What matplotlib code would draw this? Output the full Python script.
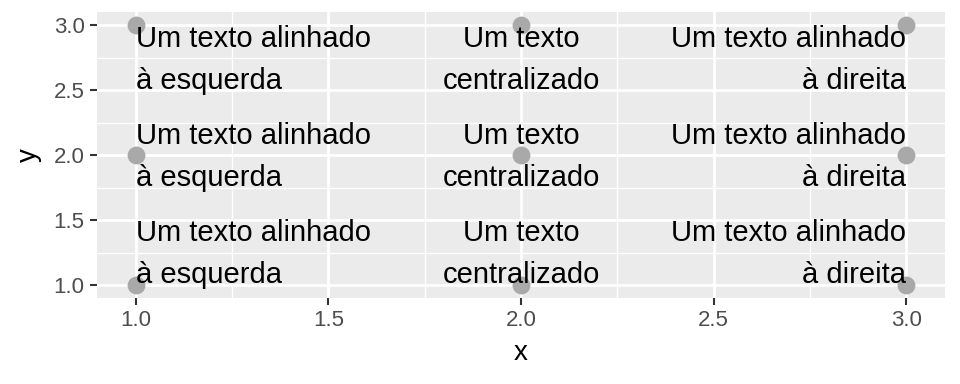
import matplotlib
matplotlib.use("Agg")
import matplotlib.pyplot as plt
import matplotlib.transforms as mtransforms
from matplotlib.ticker import MultipleLocator

plt.rcParams['font.family'] = ['Liberation Sans', 'DejaVu Sans']

xs = [1, 2, 3]
ys = [1, 2, 3]
labels = {1: "Um texto alinhado\nà esquerda", 2: "Um texto\ncentralizado", 3: "Um texto alinhado\nà direita"}
hal = {1: 'left', 2: 'center', 3: 'right'}
val = {1: 'bottom', 2: 'center', 3: 'top'}
xticks = [1.0, 1.5, 2.0, 2.5, 3.0]
yticks = [1.0, 1.5, 2.0, 2.5, 3.0]

fig = plt.figure(figsize=(9.6, 3.84), dpi=100)
ax = fig.add_axes([97/960, 1-298/384, (945-97)/960, (298-12)/384])
ax.set_facecolor('#EBEBEB')
for s in ax.spines.values():
    s.set_visible(False)

ax.set_xlim(0.9, 3.1)
ax.set_ylim(0.9, 3.1)
ax.set_xticks(xticks)
ax.set_yticks(yticks)
ax.set_xticklabels([f"{t:.1f}" for t in xticks])
ax.set_yticklabels([f"{t:.1f}" for t in yticks])
ax.xaxis.set_minor_locator(MultipleLocator(0.25))
ax.yaxis.set_minor_locator(MultipleLocator(0.25))
ax.grid(which='major', color='white', linewidth=2.0)
ax.grid(which='minor', color='white', linewidth=1.0)
ax.set_axisbelow(True)
ax.tick_params(which='major', length=5, width=1.5, color='#333333',
               labelsize=16, labelcolor='#4D4D4D', pad=4)
ax.tick_params(which='minor', length=0)

# small vertical nudges (pixels) to mimic ggplot's text box metrics
nudge = {1: -4, 2: -2, 3: 0}

for x in xs:
    for y in ys:
        ax.scatter([x], [y], s=165, color='#A9A9A9', zorder=2, linewidths=0)
for x in xs:
    for y in ys:
        tr = mtransforms.offset_copy(ax.transData, fig=fig, x=0, y=nudge[y], units='dots')
        ax.text(x, y, labels[x], ha=hal[x], va=val[y], multialignment=hal[x],
                fontsize=21, color='black', linespacing=1.62, zorder=3,
                transform=tr)

ax.set_xlabel('x', fontsize=20, labelpad=6)
ax.set_ylabel('y', fontsize=20, labelpad=8)

fig.savefig('out.png', dpi=100)
